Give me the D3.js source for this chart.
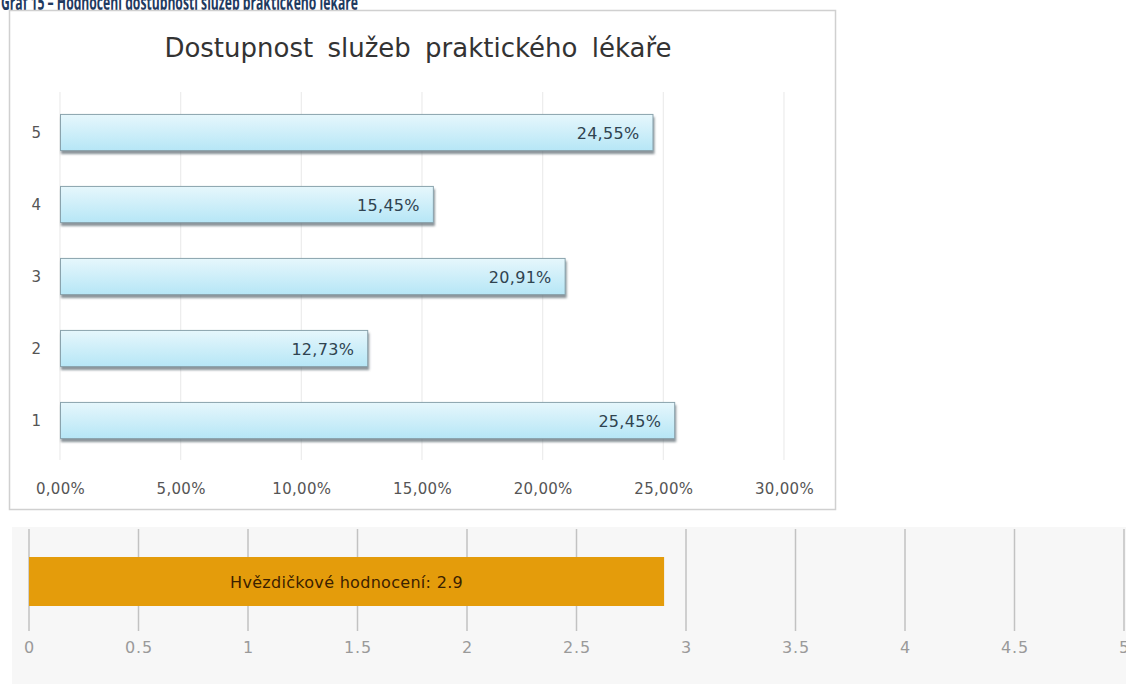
<!DOCTYPE html>
<html>
<head>
<meta charset="utf-8">
<script src="https://cdn.jsdelivr.net/npm/d3@7"></script>
<style>
  body { margin: 0; background: #fff; overflow: hidden; }
  svg { display: block; }
</style>
</head>
<body>
<div id="chart"></div>
<script>
'use strict';
// data
const caption = "Graf 15 – Hodnocení dostupnosti služeb praktického lékaře";
const chartTitle = "Dostupnost služeb praktického lékaře";
const categories = ["5", "4", "3", "2", "1"];
const shares = [24.55, 15.45, 20.91, 12.73, 25.45];
const shareTicks = [0, 5, 10, 15, 20, 25, 30];
const ratingLabel = "Hvězdičkové hodnocení";
const ratingValue = 2.9;
const ratingTicks = [0, 0.5, 1, 1.5, 2, 2.5, 3, 3.5, 4, 4.5, 5];

const width = 1126, height = 684;
const font = "'DejaVu Sans', Verdana, sans-serif";
const fmtPct = d => d3.format(".2f")(d).replace(".", ",") + "%";

var svg = d3.select("#chart").append("svg")
    .attr("width", width)
    .attr("height", height)
    .style("font-family", font);

var defs = svg.append("defs");
var grad = defs.append("linearGradient")
    .attr("id", "barGrad")
    .attr("x1", 0).attr("y1", 0).attr("x2", 0).attr("y2", 1);
grad.append("stop").attr("offset", "0%").attr("stop-color", "#e6f7fc");
grad.append("stop").attr("offset", "100%").attr("stop-color", "#b6e6f6");

var shadow = defs.append("filter").attr("id", "barShadow")
    .attr("x", "-5%").attr("y", "-20%").attr("width", "110%").attr("height", "150%");
shadow.append("feDropShadow")
    .attr("dx", 1).attr("dy", 3).attr("stdDeviation", 1.2)
    .attr("flood-color", "#56656c").attr("flood-opacity", 0.7);

// caption, cut off by the top of the page
svg.append("text")
    .attr("x", 1)
    .attr("y", 10)
    .attr("textLength", 357)
    .attr("lengthAdjust", "spacingAndGlyphs")
    .style("font-family", "'Liberation Sans Narrow', 'Open Sans', sans-serif")
    .style("font-weight", "bold")
    .style("font-size", "21px")
    .style("fill", "#1f3a5f")
    .text(caption);

// ---- top chart ----
svg.append("rect")
    .attr("x", 9.5).attr("y", 10.5)
    .attr("width", 826).attr("height", 499)
    .style("fill", "#fff")
    .style("stroke", "#d0d0d0")
    .style("stroke-width", 1.5);

svg.append("text")
    .attr("x", 418)
    .attr("y", 57)
    .attr("text-anchor", "middle")
    .style("font-size", "26px")
    .style("word-spacing", "6px")
    .style("fill", "#333")
    .text(chartTitle);

var x = d3.scaleLinear().domain([0, 30]).range([60, 784]);
var y = d3.scaleBand().domain(categories).range([97, 457])
    .paddingInner(0.47).paddingOuter(0.235);

// grid lines
svg.append("g")
    .selectAll("line")
    .data(shareTicks)
    .enter().append("line")
    .attr("x1", d => x(d)).attr("x2", d => x(d))
    .attr("y1", 92).attr("y2", 460)
    .style("stroke", "#ececec")
    .style("stroke-width", 1.2);

// x axis labels
var xAxis = svg.append("g")
    .attr("transform", "translate(0,480)")
    .call(d3.axisBottom(x).tickValues(shareTicks).tickFormat(fmtPct).tickSize(0));
xAxis.select(".domain").remove();
xAxis.selectAll("text")
    .style("font-family", font)
    .style("font-size", "15px")
    .style("letter-spacing", "0.3px")
    .style("fill", "#555");

// y axis labels
var yAxis = svg.append("g")
    .attr("transform", "translate(44,0)")
    .call(d3.axisLeft(y).tickSize(0));
yAxis.select(".domain").remove();
yAxis.selectAll("text")
    .style("font-family", font)
    .style("font-size", "15px")
    .style("fill", "#555");

var barData = categories.map((c, i) => ({cat: c, value: shares[i]}));

svg.append("g")
    .selectAll(".bar")
    .data(barData)
    .enter().append("rect")
    .attr("class", "bar")
    .attr("x", x(0) + 0.5)
    .attr("y", d => y(d.cat) + 0.5)
    .attr("width", d => x(d.value) - x(0))
    .attr("height", y.bandwidth() - 2)
    .style("fill", "url(#barGrad)")
    .style("stroke", "#8aa3ad")
    .style("stroke-width", 1)
    .attr("filter", "url(#barShadow)");

svg.append("g")
    .selectAll("text")
    .data(barData)
    .enter().append("text")
    .attr("x", d => x(d.value) - 13)
    .attr("y", d => y(d.cat) + y.bandwidth() / 2)
    .attr("dy", "0.35em")
    .attr("text-anchor", "end")
    .style("font-size", "16px")
    .style("letter-spacing", "0.3px")
    .style("fill", "#2f4350")
    .text(d => fmtPct(d.value));

// ---- bottom chart: star rating ----
var r = d3.scaleLinear().domain([0, 5]).range([29, 1124]);

svg.append("rect")
    .attr("x", 12).attr("y", 527)
    .attr("width", width - 12).attr("height", height - 527)
    .style("fill", "#f7f7f7");

svg.append("g")
    .selectAll("line")
    .data(ratingTicks)
    .enter().append("line")
    .attr("x1", d => r(d)).attr("x2", d => r(d))
    .attr("y1", 529).attr("y2", 631)
    .style("stroke", "#c2c2c2")
    .style("stroke-width", 1.5);

svg.append("rect")
    .attr("x", r(0))
    .attr("y", 557)
    .attr("width", r(ratingValue) - r(0))
    .attr("height", 49)
    .style("fill", "#e49c0b");

svg.append("text")
    .attr("x", (r(0) + r(ratingValue)) / 2)
    .attr("y", 582)
    .attr("dy", "0.35em")
    .attr("text-anchor", "middle")
    .style("font-size", "16px")
    .style("letter-spacing", "0.3px")
    .style("fill", "#3b2100")
    .text(ratingLabel + ": " + ratingValue);

var rAxis = svg.append("g")
    .attr("transform", "translate(0,639)")
    .call(d3.axisBottom(r).tickValues(ratingTicks).tickFormat(d => String(d)).tickSize(0));
rAxis.select(".domain").remove();
rAxis.selectAll("text")
    .style("font-family", font)
    .style("font-size", "16px")
    .style("letter-spacing", "0.8px")
    .style("fill", "#9a9a9a");
</script>
</body>
</html>
